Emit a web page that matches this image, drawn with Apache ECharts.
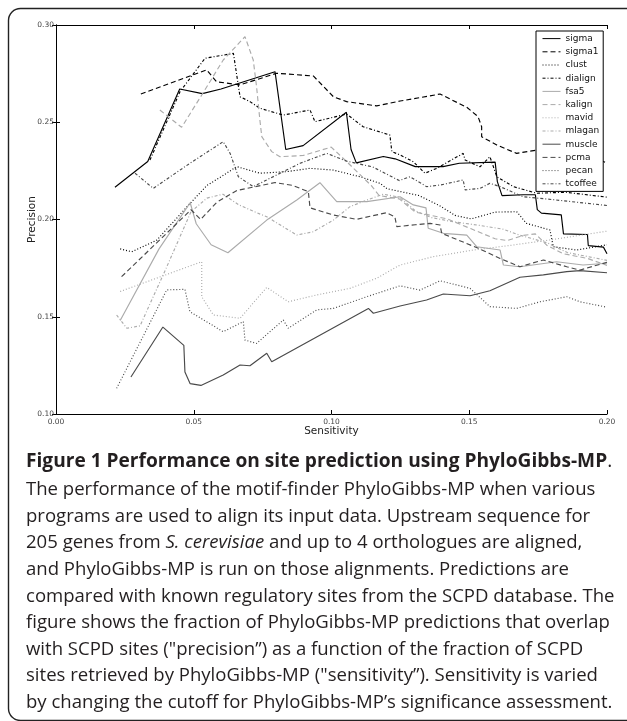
<!DOCTYPE html>
<html><head><meta charset="utf-8">
<script src="https://cdn.jsdelivr.net/npm/echarts@6/dist/echarts.min.js"></script>
<style>html,body{margin:0;padding:0;background:#fff;}#c{width:627px;height:721px;}</style>
</head><body><div id="c"></div>
<script>
// ---------- data (sensitivity, precision) ----------
const sigma = [[0.0214,0.2166],[0.0333,0.2298],[0.0449,0.2671],[0.0531,0.2647],[0.0599,0.2671],[0.0795,0.2760],[0.0834,0.2360],[0.0897,0.2380],[0.1054,0.2551],[0.1071,0.2360],[0.1090,0.2291],[0.1188,0.2324],[0.1231,0.2312],[0.1304,0.2272],[0.1405,0.2272],[0.1464,0.2289],[0.1594,0.2295],[0.1602,0.2195],[0.1619,0.2123],[0.1696,0.2127],[0.1740,0.2127],[0.1747,0.2051],[0.1762,0.2033],[0.1834,0.2024],[0.1842,0.1926],[0.1929,0.1923],[0.1932,0.1866],[0.1987,0.1858],[0.2000,0.1824]];
const sigma1 = [[0.0308,0.2645],[0.0547,0.2769],[0.0583,0.2708],[0.0668,0.2692],[0.0801,0.2752],[0.0934,0.2738],[0.1007,0.2631],[0.1055,0.2606],[0.1164,0.2584],[0.1249,0.2609],[0.1394,0.2645],[0.1491,0.2577],[0.1532,0.2529],[0.1545,0.2477],[0.1545,0.2426],[0.1600,0.2383],[0.1672,0.2340],[0.1745,0.2357],[0.1850,0.2360],[0.1950,0.2320],[0.2000,0.2290]];
const clust = [[0.0233,0.1849],[0.0275,0.1834],[0.0366,0.1894],[0.0492,0.2091],[0.0548,0.2175],[0.0606,0.2226],[0.0656,0.2272],[0.0740,0.2238],[0.0837,0.2246],[0.0922,0.2263],[0.1007,0.2254],[0.1103,0.2220],[0.1176,0.2186],[0.1202,0.2158],[0.1318,0.2123],[0.1391,0.2072],[0.1449,0.2021],[0.1507,0.2003],[0.1594,0.2038],[0.1672,0.2040],[0.1708,0.1980],[0.1793,0.1946],[0.1805,0.1860],[0.1890,0.1843],[0.2000,0.1870]];
const dialign = [[0.0341,0.2306],[0.0450,0.2657],[0.0541,0.2829],[0.0644,0.2854],[0.0668,0.2631],[0.0704,0.2606],[0.0740,0.2572],[0.0825,0.2537],[0.0922,0.2563],[0.0940,0.2503],[0.1055,0.2542],[0.1115,0.2477],[0.1212,0.2434],[0.1219,0.2349],[0.1249,0.2332],[0.1297,0.2297],[0.1339,0.2238],[0.1382,0.2263],[0.1478,0.2340],[0.1485,0.2306],[0.1539,0.2271],[0.1575,0.2323],[0.1600,0.2220],[0.1660,0.2169],[0.1745,0.2135],[0.1850,0.2140],[0.2000,0.2115]];
const fsa5 = [[0.0233,0.1481],[0.0374,0.1849],[0.0487,0.2086],[0.0509,0.1978],[0.0563,0.1870],[0.0624,0.1829],[0.0765,0.1997],[0.0874,0.2100],[0.0958,0.2189],[0.1019,0.2092],[0.1128,0.2092],[0.1249,0.2117],[0.1297,0.2075],[0.1343,0.2060],[0.1351,0.1955],[0.1406,0.1929],[0.1491,0.1920],[0.1527,0.1860],[0.1612,0.1843],[0.1624,0.1766],[0.1684,0.1757],[0.1817,0.1783],[0.1913,0.1766],[0.2000,0.1775]];
const kalign = [[0.0377,0.2563],[0.0456,0.2474],[0.0529,0.2640],[0.0607,0.2820],[0.0686,0.2940],[0.0716,0.2820],[0.0728,0.2683],[0.0740,0.2512],[0.0747,0.2426],[0.0783,0.2349],[0.0813,0.2323],[0.0897,0.2329],[0.0999,0.2372],[0.1057,0.2295],[0.1144,0.2175],[0.1173,0.2123],[0.1246,0.2106],[0.1304,0.2038],[0.1362,0.2021],[0.1420,0.2003],[0.1507,0.1952],[0.1594,0.1901],[0.1638,0.1892],[0.1696,0.1918],[0.1740,0.1926],[0.1783,0.1866],[0.1842,0.1824],[0.1929,0.1800],[0.2000,0.1764]];
const mavid = [[0.0233,0.1630],[0.0529,0.1783],[0.0529,0.1603],[0.0571,0.1509],[0.0668,0.1492],[0.0765,0.1651],[0.0843,0.1577],[0.0946,0.1612],[0.1067,0.1646],[0.1164,0.1698],[0.1249,0.1766],[0.1370,0.1809],[0.1515,0.1843],[0.1660,0.1869],[0.1793,0.1895],[0.2000,0.1940]];
const mlagan = [[0.0220,0.1509],[0.0257,0.1441],[0.0305,0.1453],[0.0400,0.1750],[0.0490,0.2040],[0.0548,0.2110],[0.0606,0.2130],[0.0664,0.2075],[0.0720,0.2040],[0.0765,0.2014],[0.0874,0.1920],[0.0934,0.1937],[0.1007,0.1997],[0.1067,0.2066],[0.1128,0.2100],[0.1188,0.2130],[0.1246,0.2115],[0.1304,0.2045],[0.1362,0.2010],[0.1435,0.1990],[0.1536,0.1970],[0.1624,0.1950],[0.1682,0.1920],[0.1783,0.1880],[0.1856,0.1830],[0.2000,0.1790]];
const muscle = [[0.0272,0.1190],[0.0388,0.1447],[0.0464,0.1353],[0.0468,0.1216],[0.0487,0.1156],[0.0526,0.1147],[0.0607,0.1200],[0.0668,0.1252],[0.0704,0.1248],[0.0765,0.1312],[0.0783,0.1269],[0.1134,0.1543],[0.1152,0.1518],[0.1249,0.1555],[0.1345,0.1586],[0.1406,0.1617],[0.1503,0.1608],[0.1575,0.1634],[0.1684,0.1703],[0.1769,0.1715],[0.1854,0.1732],[0.1902,0.1737],[0.2000,0.1726]];
const pcma = [[0.0238,0.1706],[0.0490,0.2050],[0.0525,0.2000],[0.0584,0.2089],[0.0657,0.2149],[0.0795,0.2190],[0.0860,0.2175],[0.0916,0.2143],[0.0922,0.2060],[0.1007,0.2023],[0.1091,0.2001],[0.1200,0.2035],[0.1230,0.2014],[0.1237,0.1963],[0.1304,0.1973],[0.1358,0.1980],[0.1394,0.1972],[0.1400,0.1929],[0.1533,0.1852],[0.1612,0.1800],[0.1684,0.1757],[0.1769,0.1792],[0.1854,0.1757],[0.1902,0.1740],[0.2000,0.1780]];
const pecan = [[0.0220,0.1132],[0.0402,0.1638],[0.0468,0.1641],[0.0486,0.1526],[0.0607,0.1423],[0.0680,0.1475],[0.0686,0.1380],[0.0728,0.1363],[0.0825,0.1483],[0.0843,0.1441],[0.0946,0.1535],[0.1007,0.1543],[0.1128,0.1603],[0.1249,0.1659],[0.1321,0.1637],[0.1394,0.1685],[0.1503,0.1646],[0.1575,0.1552],[0.1672,0.1543],[0.1757,0.1577],[0.1854,0.1603],[0.1902,0.1577],[0.2000,0.1549]];
const tcoffee = [[0.0287,0.2238],[0.0353,0.2160],[0.0486,0.2289],[0.0607,0.2400],[0.0632,0.2340],[0.0662,0.2220],[0.0716,0.2169],[0.0801,0.2229],[0.0886,0.2289],[0.0983,0.2340],[0.1055,0.2300],[0.1150,0.2270],[0.1246,0.2200],[0.1285,0.2220],[0.1345,0.2169],[0.1394,0.2177],[0.1478,0.2203],[0.1485,0.2152],[0.1539,0.2160],[0.1575,0.2186],[0.1612,0.2169],[0.1695,0.2117],[0.1798,0.2103],[0.2000,0.2072]];

const seriesNames = ['sigma','sigma1','clust','dialign','fsa5','kalign','mavid','mlagan','muscle','pcma','pecan','tcoffee'];
const seriesData = [sigma,sigma1,clust,dialign,fsa5,kalign,mavid,mlagan,muscle,pcma,pecan,tcoffee];

const xRange = [0, 0.20, 0.05];
const yRange = [0.10, 0.30, 0.05];
const xTitle = 'Sensitivity';
const yTitle = 'Precision';

const captionTitle = 'Figure 1 Performance on site prediction using PhyloGibbs-MP';
const captionLines = [
  'The performance of the motif-finder PhyloGibbs-MP when various',
  'programs are used to align its input data. Upstream sequence for',
  ['205 genes from ', 'S. cerevisiae', ' and up to 4 orthologues are aligned,'],
  'and PhyloGibbs-MP is run on those alignments. Predictions are',
  'compared with known regulatory sites from the SCPD database. The',
  'figure shows the fraction of PhyloGibbs-MP predictions that overlap',
  'with SCPD sites ("precision\u201d) as a function of the fraction of SCPD',
  'sites retrieved by PhyloGibbs-MP ("sensitivity\u201d). Sensitivity is varied',
  'by changing the cutoff for PhyloGibbs-MP\u2019s significance assessment.'
];

// ---------- styles ----------
const groupColors = ['#000000', '#ababab', '#4a4a4a'];
const dashes = ['solid', [5,3], [1,2], [3,2,1,2]];

const chart = echarts.init(document.getElementById('c'), null, {renderer:'canvas'});

const series = seriesNames.map((n,i)=>({
  name: n, type: 'line', data: seriesData[i], symbol: 'none', showSymbol:false,
  xAxisIndex: 0, yAxisIndex: 0,
  lineStyle: {color: groupColors[Math.floor(i/4)], width: 1.15, type: dashes[i%4]},
  itemStyle: {color: groupColors[Math.floor(i/4)]},
  emphasis: {disabled: true}, animation: false
}));

// caption font fitting
const mctx = document.createElement('canvas').getContext('2d');
function fitSize(text, weight, target){
  mctx.font = weight + ' 100px "Open Sans"';
  return 100 * target / mctx.measureText(text).width;
}
const bodySize = Math.min(20, Math.max(13, fitSize(captionLines[8], 'normal', 587)));
const titleSize = Math.min(20, Math.max(13, fitSize(captionTitle + '.', 'bold', 587)));

const capStartY = 462, capGap = 26.6;
const graphics = [{
  type:'rect', shape:{x:8.5, y:8.5, width:660, height:712, r:12},
  style:{fill:'none', stroke:'#222', lineWidth:1.4}, silent:true
},{
  type:'text', x:26, y:capStartY,
  style:{text:'{b|'+captionTitle+'}{n|.}', verticalAlign:'middle', fill:'#231f20',
    rich:{b:{fontFamily:'"Open Sans"', fontWeight:'bold', fontSize:titleSize, fill:'#231f20'},
          n:{fontFamily:'"Open Sans"', fontSize:titleSize, fill:'#231f20'}}}
}];
captionLines.forEach((ln, i)=>{
  const y = capStartY + 28 + i*capGap;
  let txt;
  if (Array.isArray(ln)) txt = '{n|'+ln[0]+'}{i|'+ln[1]+'}{n|'+ln[2]+'}';
  else txt = '{n|'+ln+'}';
  graphics.push({type:'text', x:26, y:y,
    style:{text:txt, verticalAlign:'middle', fill:'#231f20',
      rich:{n:{fontFamily:'"Open Sans"', fontSize:bodySize, fill:'#231f20'},
            i:{fontFamily:'"Open Sans"', fontStyle:'italic', fontSize:bodySize, fill:'#231f20'}}}});
});

const axLine = {show:true, lineStyle:{color:'#000', width:1}};
const tick = {show:true, inside:true, length:4, lineStyle:{color:'#000', width:1}};
const lblFont = {fontFamily:'DejaVu Sans', fontSize:7.5, color:'#444'};

const option = {
  animation:false,
  backgroundColor:'#fff',
  grid:{left:56, top:25, width:551, height:389, outerBoundsMode:'none', containLabel:false},
  xAxis:[{
    type:'value', min:xRange[0], max:xRange[1], interval:xRange[2], position:'bottom',
    axisLine:axLine, axisTick:tick, splitLine:{show:false},
    axisLabel:Object.assign({margin:4, formatter:v=>v.toFixed(2), showMinLabel:true, showMaxLabel:true}, lblFont),
    name:xTitle, nameLocation:'middle', nameGap:12, nameMoveOverlap:false,
    nameTextStyle:{fontFamily:'DejaVu Sans', fontSize:10.5, color:'#222'}
  },{
    type:'value', min:xRange[0], max:xRange[1], interval:xRange[2], position:'top',
    axisLine:axLine, axisTick:tick, splitLine:{show:false}, axisLabel:{show:false}
  }],
  yAxis:[{
    type:'value', min:yRange[0], max:yRange[1], interval:yRange[2], position:'left',
    axisLine:axLine, axisTick:tick, splitLine:{show:false},
    axisLabel:Object.assign({margin:2, formatter:v=>v.toFixed(2), showMinLabel:true, showMaxLabel:true}, lblFont),
    name:yTitle, nameLocation:'middle', nameGap:18, nameRotate:90, nameMoveOverlap:false,
    nameTextStyle:{fontFamily:'DejaVu Sans', fontSize:10.5, color:'#222'}
  },{
    type:'value', min:yRange[0], max:yRange[1], interval:yRange[2], position:'right',
    axisLine:axLine, axisTick:tick, splitLine:{show:false}, axisLabel:{show:false}
  }],
  legend:{
    data:seriesNames, orient:'vertical', left:536, top:31,
    padding:[1,4,1,6], itemWidth:18, itemHeight:8, itemGap:0,
    itemStyle:{opacity:0, borderWidth:0},
    lineStyle:{width:1},
    borderColor:'#000', borderWidth:1, backgroundColor:'#fff', borderRadius:0,
    textStyle:{fontFamily:'DejaVu Sans', fontSize:9, color:'#111', lineHeight:13.2},
    selectedMode:false
  },
  series: series,
  graphic: graphics
};
chart.setOption(option);
</script></body></html>
